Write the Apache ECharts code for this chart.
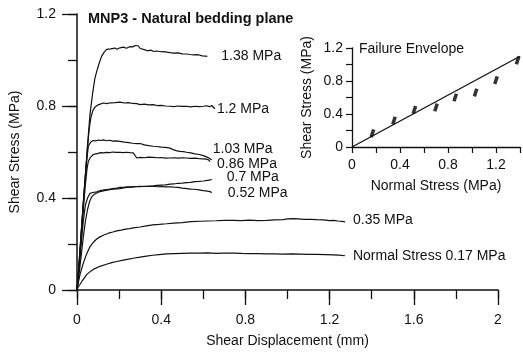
<!DOCTYPE html>
<html>
<head>
<meta charset="utf-8">
<script src="https://cdn.jsdelivr.net/npm/echarts@6/dist/echarts.min.js"></script>
<style>
html, body { margin: 0; padding: 0; background: #fff; }
#chart { width: 523px; height: 353px; }
</style>
</head>
<body>
<div id="chart"></div>
<script>
// shear displacement (mm) vs shear stress (MPa), one curve per normal stress
var curve138 = [[0,0],[0.01,0.10],[0.02,0.24],[0.03,0.37],[0.04,0.50],[0.05,0.63],[0.062,0.767],[0.075,0.86],[0.085,0.92],[0.095,0.955],[0.105,0.985],[0.117,1.017],[0.13,1.035],[0.141,1.046],[0.16,1.048],[0.18,1.052],[0.19,1.047],[0.204,1.053],[0.22,1.056],[0.235,1.051],[0.25,1.058],[0.265,1.057],[0.276,1.063],[0.285,1.058],[0.291,1.062],[0.30,1.05],[0.307,1.042],[0.32,1.045],[0.335,1.040],[0.35,1.043],[0.365,1.037],[0.379,1.039],[0.40,1.036],[0.42,1.035],[0.442,1.032],[0.46,1.030],[0.48,1.031],[0.50,1.027],[0.52,1.026],[0.537,1.024],[0.555,1.022],[0.575,1.023],[0.595,1.018],[0.61,1.017],[0.619,1.016]]
var curve120 = [[0,0],[0.01,0.12],[0.02,0.25],[0.03,0.38],[0.04,0.50],[0.05,0.62],[0.058,0.70],[0.066,0.75],[0.075,0.78],[0.085,0.795],[0.10,0.805],[0.11,0.808],[0.125,0.813],[0.14,0.810],[0.16,0.814],[0.18,0.815],[0.204,0.817],[0.225,0.813],[0.245,0.815],[0.265,0.811],[0.284,0.810],[0.30,0.806],[0.32,0.808],[0.34,0.805],[0.362,0.806],[0.38,0.802],[0.40,0.803],[0.42,0.800],[0.442,0.799],[0.46,0.797],[0.48,0.800],[0.50,0.798],[0.521,0.799],[0.54,0.796],[0.56,0.799],[0.58,0.797],[0.60,0.799],[0.615,0.801],[0.63,0.797],[0.64,0.802],[0.648,0.795],[0.655,0.788]]
var curve103 = [[0,0],[0.01,0.12],[0.02,0.25],[0.03,0.38],[0.04,0.50],[0.048,0.58],[0.054,0.625],[0.065,0.643],[0.077,0.650],[0.09,0.648],[0.10,0.652],[0.112,0.650],[0.125,0.653],[0.14,0.649],[0.155,0.651],[0.17,0.647],[0.185,0.648],[0.204,0.646],[0.225,0.643],[0.245,0.641],[0.265,0.638],[0.284,0.636],[0.30,0.637],[0.32,0.631],[0.34,0.628],[0.362,0.625],[0.38,0.624],[0.40,0.621],[0.42,0.620],[0.442,0.617],[0.46,0.609],[0.475,0.605],[0.49,0.603],[0.505,0.602],[0.521,0.599],[0.54,0.596],[0.56,0.592],[0.58,0.589],[0.60,0.584],[0.615,0.579],[0.625,0.575],[0.635,0.569],[0.64,0.566]]
var curve086 = [[0,0],[0.01,0.11],[0.02,0.23],[0.03,0.35],[0.04,0.46],[0.048,0.53],[0.054,0.56],[0.065,0.578],[0.077,0.589],[0.09,0.592],[0.10,0.594],[0.112,0.597],[0.125,0.596],[0.14,0.598],[0.155,0.597],[0.17,0.600],[0.185,0.598],[0.204,0.599],[0.22,0.597],[0.235,0.599],[0.25,0.597],[0.267,0.596],[0.275,0.586],[0.284,0.574],[0.30,0.577],[0.32,0.575],[0.34,0.578],[0.362,0.577],[0.38,0.575],[0.40,0.576],[0.42,0.573],[0.442,0.574],[0.46,0.575],[0.48,0.573],[0.50,0.575],[0.521,0.574],[0.54,0.572],[0.56,0.573],[0.58,0.571],[0.60,0.570],[0.615,0.569],[0.625,0.566],[0.632,0.558]]
var curve070 = [[0,0],[0.01,0.10],[0.02,0.20],[0.03,0.30],[0.04,0.37],[0.05,0.40],[0.062,0.42],[0.075,0.424],[0.094,0.427],[0.11,0.432],[0.13,0.435],[0.15,0.438],[0.17,0.441],[0.19,0.443],[0.204,0.446],[0.22,0.446],[0.24,0.448],[0.26,0.447],[0.284,0.450],[0.30,0.451],[0.32,0.450],[0.34,0.452],[0.362,0.453],[0.38,0.455],[0.40,0.456],[0.42,0.457],[0.442,0.460],[0.46,0.461],[0.48,0.464],[0.50,0.465],[0.521,0.467],[0.54,0.468],[0.56,0.471],[0.58,0.472],[0.60,0.474],[0.62,0.477],[0.635,0.479],[0.64,0.482]]
var curve052 = [[0,0],[0.01,0.07],[0.02,0.15],[0.03,0.23],[0.04,0.30],[0.05,0.35],[0.06,0.385],[0.07,0.405],[0.08,0.415],[0.094,0.422],[0.11,0.428],[0.13,0.432],[0.15,0.435],[0.17,0.438],[0.19,0.440],[0.204,0.441],[0.22,0.444],[0.24,0.446],[0.26,0.448],[0.284,0.450],[0.30,0.449],[0.32,0.451],[0.34,0.450],[0.362,0.451],[0.38,0.449],[0.40,0.450],[0.42,0.448],[0.442,0.449],[0.46,0.447],[0.48,0.446],[0.50,0.443],[0.521,0.441],[0.54,0.439],[0.56,0.438],[0.58,0.435],[0.60,0.432],[0.62,0.430],[0.635,0.427],[0.64,0.423]]
var curve035 = [[0,0],[0.006,0.031],[0.015,0.07],[0.03,0.117],[0.045,0.155],[0.062,0.189],[0.08,0.21],[0.095,0.223],[0.109,0.231],[0.13,0.240],[0.15,0.247],[0.17,0.252],[0.189,0.257],[0.21,0.260],[0.23,0.265],[0.25,0.267],[0.267,0.270],[0.30,0.274],[0.33,0.279],[0.36,0.283],[0.39,0.285],[0.426,0.288],[0.46,0.291],[0.50,0.293],[0.54,0.297],[0.584,0.299],[0.62,0.300],[0.66,0.301],[0.70,0.303],[0.743,0.303],[0.78,0.302],[0.82,0.304],[0.86,0.302],[0.901,0.303],[0.94,0.305],[0.98,0.306],[1.00,0.309],[1.028,0.310],[1.05,0.309],[1.08,0.307],[1.11,0.307],[1.139,0.306],[1.17,0.305],[1.20,0.302],[1.218,0.303],[1.24,0.300],[1.26,0.298],[1.273,0.296]]
var curve017 = [[0,0],[0.005,0.012],[0.014,0.024],[0.025,0.04],[0.046,0.067],[0.065,0.082],[0.085,0.093],[0.109,0.103],[0.14,0.112],[0.165,0.119],[0.189,0.124],[0.22,0.130],[0.245,0.134],[0.267,0.138],[0.30,0.143],[0.33,0.147],[0.36,0.151],[0.39,0.154],[0.426,0.157],[0.46,0.158],[0.50,0.159],[0.54,0.160],[0.584,0.160],[0.62,0.161],[0.66,0.159],[0.70,0.160],[0.743,0.160],[0.78,0.159],[0.82,0.158],[0.86,0.158],[0.901,0.157],[0.94,0.157],[0.98,0.156],[1.02,0.157],[1.059,0.156],[1.10,0.155],[1.14,0.155],[1.18,0.154],[1.218,0.153],[1.245,0.152],[1.273,0.149]]

var curveLabels = ['1.38 MPa', '1.2 MPa', '1.03 MPa', '0.86 MPa', '0.7 MPa', '0.52 MPa', '0.35 MPa', 'Normal Stress 0.17 MPa']

// failure envelope inset
var normalStress = [0.17, 0.35, 0.52, 0.7, 0.86, 1.03, 1.2, 1.38]
var peakShear = [0.166, 0.32, 0.45, 0.48, 0.60, 0.66, 0.81, 1.05]
var envelopeX = [0, 1.4]
var envelopeY = [0, 1.10]

var FONT = '"Liberation Sans", Arial, sans-serif'
var chart = echarts.init(document.getElementById('chart'))

var curves = [curve138, curve120, curve103, curve086, curve070, curve052, curve035, curve017]
// label nudges from the end of each curve
var labelOffsets = [[14, 0], [2, 0], [1, -11], [7, 2], [15, -1.5], [16, 0], [8, -1.5], [8, 0]]

var series = []
curves.map(function (item, index) {
	series.push({
		type: 'line',
		xAxisIndex: 0,
		yAxisIndex: 0,
		data: item,
		showSymbol: false,
		symbol: 'none',
		lineStyle: { color: '#111', width: 1.2 },
		endLabel: {
			show: true,
			formatter: curveLabels[index],
			distance: 0,
			offset: labelOffsets[index],
			color: '#111',
			fontSize: 14,
			fontFamily: FONT,
		},
		animation: false,
	})
})

series.push({
	type: 'line',
	xAxisIndex: 1,
	yAxisIndex: 1,
	data: envelopeX.map(function (x, i) { return [x, envelopeY[i]] }),
	showSymbol: false,
	lineStyle: { color: '#111', width: 1.3 },
	animation: false,
})
series.push({
	type: 'scatter',
	xAxisIndex: 1,
	yAxisIndex: 1,
	data: normalStress.map(function (x, i) { return [x, peakShear[i]] }),
	symbol: 'rect',
	symbolSize: [3.5, 8],
	symbolRotate: -18,
	itemStyle: { color: '#000' },
	animation: false,
})

var insetLabel = function (v) {
	return Math.round(v * 10) % 4 === 0 ? String(+v.toFixed(1)) : ''
}

var mainAxis = function (name, max, nameGap, position, margin) {
	return {
		type: 'value',
		position: position,
		min: 0,
		max: max,
		interval: 0.4,
		name: name,
		nameLocation: 'middle',
		nameGap: nameGap,
		nameTextStyle: { color: '#111', fontSize: 14, fontFamily: FONT },
		axisLine: { show: true, onZero: false, lineStyle: { color: '#111', width: 1.5 } },
		axisTick: { show: true, inside: false, length: 15, lineStyle: { color: '#111', width: 1.3 } },
		axisLabel: { color: '#111', fontSize: 14, fontFamily: FONT, margin: margin },
		splitLine: { show: false },
	}
}

// second axis on the same side, only for the short 0.2 ticks
var minorAxis = function (max, position) {
	return {
		type: 'value',
		position: position,
		offset: 0,
		min: 0,
		max: max,
		interval: 0.2,
		axisLine: { show: false, onZero: false },
		axisTick: { show: true, inside: false, length: 9, lineStyle: { color: '#111', width: 1.3 } },
		axisLabel: { show: false },
		splitLine: { show: false },
	}
}

var insetAxis = function (name, max, nameGap, margin) {
	return {
		type: 'value',
		gridIndex: 1,
		min: 0,
		max: max,
		interval: 0.2,
		name: name,
		nameLocation: 'middle',
		nameGap: nameGap,
		nameTextStyle: { color: '#111', fontSize: 14, fontFamily: FONT },
		axisLine: { show: true, onZero: false, lineStyle: { color: '#111', width: 1.3 } },
		axisTick: { show: true, length: 6, lineStyle: { color: '#111', width: 1.2 } },
		axisLabel: { color: '#111', fontSize: 14, fontFamily: FONT, margin: margin, formatter: insetLabel },
		splitLine: { show: false },
	}
}

var options = {
	backgroundColor: '#fff',
	animation: false,
	grid: [
		{ left: 77, right: 25, top: 14, bottom: 59 },
		{ left: 352, right: 2, top: 48, bottom: 206 },
	],
	xAxis: [
		mainAxis('Shear Displacement (mm)', 2, 44, 'bottom', 23),
		insetAxis('Normal Stress (MPa)', 1.4, 32, 11),
		minorAxis(2, 'bottom'),
	],
	yAxis: [
		mainAxis('Shear Stress (MPa)', 1.2, 55, 'left', 21),
		insetAxis('Shear Stress (MPa)', 1.2, 38, 9),
		minorAxis(1.2, 'left'),
	],
	graphic: [
		{
			type: 'text',
			left: 88,
			top: 11,
			style: { text: 'MNP3 - Natural bedding plane', fill: '#111', font: 'bold 14.5px ' + FONT },
		},
		{
			type: 'text',
			left: 359,
			top: 42,
			style: { text: 'Failure Envelope', fill: '#111', font: '14px ' + FONT },
		},
	],
	series: series,
}
chart.setOption(options, true)
</script>
</body>
</html>
